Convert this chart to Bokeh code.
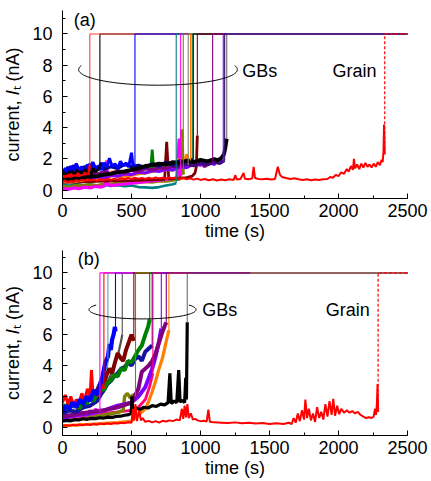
import numpy as np
from bokeh.plotting import figure
from bokeh.layouts import column
from bokeh.models import SingleIntervalTicker, Label
from bokeh.embed import file_html
from bokeh.resources import INLINE

I_SAT = 10.0      # compliance level (nA)
T_END = 2500      # end of record (s)
Y_TITLE = "current, \U0001D43C\u209C (nA)"   # current, I_t (nA) with italic I and subscript t

# ---------------- panel (a): GB traces, (time s, current nA); last point = breakdown
a_black2 = [(0, 0.95), (15, 1.15), (30, 0.9), (45, 1.2), (60, 1.0), (75, 1.25), (90, 0.95), (105, 1.3),
            (120, 1.05), (135, 1.2), (150, 0.95), (165, 1.35), (180, 1.1), (195, 1.25), (210, 1.0),
            (225, 1.4), (240, 1.15), (255, 1.3), (271, 1.5)]
a_red = [(0, 0.75), (12, 0.95), (25, 0.7), (38, 1.0), (50, 0.8), (62, 1.05), (75, 0.75), (88, 0.95),
         (100, 0.85), (112, 1.1), (125, 0.8), (138, 1.0), (150, 0.9), (162, 1.15), (175, 0.85),
         (188, 1.05), (198, 1.6)]
a_blue = [(0, 1.1), (20, 1.4), (40, 1.15), (60, 1.55), (80, 1.25), (100, 1.7), (120, 1.3), (140, 1.5),
          (160, 1.2), (180, 1.65), (200, 1.35), (220, 1.8), (240, 1.4), (260, 1.55), (280, 1.3),
          (300, 1.75), (320, 1.45), (340, 2.05), (360, 1.5), (380, 1.7), (400, 1.4), (420, 1.85),
          (440, 1.55), (460, 1.75), (480, 1.5), (500, 2.4), (510, 1.6), (525, 1.7)]
a_navy = [(0, 1.3), (20, 1.0), (40, 1.5), (60, 1.1), (80, 1.6), (100, 1.2), (120, 1.45), (140, 1.05),
          (160, 1.55), (180, 1.2), (200, 1.7), (220, 1.25), (240, 1.5), (260, 1.3), (280, 1.75),
          (300, 1.35), (350, 1.5), (400, 1.4), (450, 1.65), (500, 1.5), (550, 1.6), (600, 1.45),
          (650, 1.7), (700, 1.55), (750, 1.8), (800, 1.6), (850, 1.9), (900, 1.7), (948, 2.0)]
a_purple = [(0, 0.85), (40, 1.05), (80, 0.9), (120, 1.1), (160, 0.95), (200, 1.15), (250, 1.0),
            (300, 1.2), (350, 1.05), (400, 1.25), (450, 1.1), (500, 1.3), (550, 1.2), (600, 1.4),
            (650, 1.3), (700, 1.45), (750, 1.4), (800, 1.55), (850, 1.5), (900, 1.7), (950, 1.6),
            (1000, 1.85), (1030, 1.5), (1060, 1.9), (1088, 1.7)]
a_violet = [(0, 0.6), (50, 0.7), (100, 0.65), (150, 0.8), (200, 0.7), (250, 0.85), (300, 0.8),
            (350, 0.95), (400, 0.9), (450, 1.05), (500, 1.0), (550, 1.15), (600, 1.1), (650, 1.25),
            (700, 1.2), (750, 1.35), (800, 1.3), (850, 1.5), (900, 1.45), (950, 1.7), (1000, 1.6),
            (1050, 1.85), (1100, 1.65), (1130, 2.0), (1165, 1.8)]
a_indigo = [(800, 1.5), (850, 1.6), (900, 1.65), (950, 1.55), (1000, 1.75), (1050, 1.6), (1100, 1.8),
            (1140, 1.7), (1175, 1.9)]
a_black = [(0, 0.65), (30, 0.7), (60, 0.68), (90, 0.75), (120, 0.72), (150, 0.8), (200, 0.85),
           (250, 0.9), (300, 1.0), (350, 1.05), (400, 1.15), (450, 1.2), (500, 1.3), (550, 1.4),
           (600, 1.55), (650, 1.6), (700, 1.7), (750, 1.65), (800, 1.8), (850, 1.75), (900, 1.9),
           (950, 1.8), (1000, 1.95), (1050, 1.85), (1100, 2.0), (1125, 1.9), (1150, 2.05),
           (1170, 2.3), (1180, 2.7), (1190, 3.3)]
a_orange = [(0, 0.55), (50, 0.6), (100, 0.58), (150, 0.65), (200, 0.7), (250, 0.68), (300, 0.75),
            (340, 0.8), (360, 1.2), (400, 0.85), (450, 0.9), (500, 0.95), (550, 1.05), (600, 1.1),
            (650, 1.2), (700, 1.3), (750, 1.4), (800, 1.5), (840, 2.0), (860, 1.6), (880, 1.7),
            (900, 2.3), (915, 1.8), (928, 1.9)]
a_green = [(100, 0.9), (150, 1.0), (200, 0.95), (250, 1.05), (300, 1.1), (350, 1.0), (400, 1.15),
           (450, 1.2), (500, 1.25), (550, 1.3), (600, 1.35), (640, 1.4), (650, 2.6), (660, 1.45),
           (700, 1.5), (750, 1.55), (800, 1.6), (850, 1.7), (900, 1.8), (940, 2.0)]
a_teal = [(0, 0.35), (50, 0.3), (100, 0.4), (150, 0.32), (200, 0.38), (250, 0.3), (300, 0.35),
          (350, 0.28), (400, 0.32), (450, 0.25), (500, 0.3), (550, 0.2), (600, 0.18), (650, 0.15),
          (700, 0.2), (750, 0.3), (800, 0.38), (824, 0.45)]
a_magenta = [(0, 0.1), (40, 0.05), (80, 0.15), (120, 0.1), (160, 0.2), (200, 0.15), (240, 0.25),
             (280, 0.2), (310, 0.3), (320, 1.9), (330, 0.35), (360, 0.3), (400, 0.35), (450, 0.4),
             (500, 0.45), (550, 0.5), (600, 0.55), (650, 0.6), (700, 0.65), (750, 0.7), (800, 0.75),
             (830, 0.8), (845, 3.3), (856, 0.9)]
a_olive = [(0, 0.25), (50, 0.2), (100, 0.3), (150, 0.28), (200, 0.35), (250, 0.3), (300, 0.4),
           (350, 0.38), (400, 0.45), (450, 0.42), (500, 0.5), (550, 0.48), (600, 0.55), (650, 0.52),
           (700, 0.6), (750, 0.58), (800, 0.65), (850, 0.7), (865, 3.9), (875, 1.0)]
a_gray = [(700, 1.2), (750, 1.3), (800, 1.25), (850, 1.4), (900, 1.5), (911, 1.6)]
a_wine = [(0, 0.5), (100, 0.52), (200, 0.55), (300, 0.58), (400, 0.6), (500, 0.62), (600, 0.65),
          (700, 0.68), (740, 0.7), (755, 3.1), (770, 0.72), (800, 0.75), (850, 0.78), (900, 0.8),
          (940, 0.9), (960, 1.1), (970, 1.5), (977, 3.5)]
# grain trace (a)
a_grain = [(0, 0.55), (20, 0.62), (40, 0.5), (60, 0.6), (80, 0.55), (100, 0.65), (120, 0.58), (140, 0.66),
           (160, 0.6), (180, 0.7), (200, 0.62), (225, 0.68), (250, 0.6), (275, 0.7), (300, 0.64),
           (325, 0.72), (350, 0.66), (375, 0.74), (400, 0.68), (425, 0.76), (450, 0.7), (475, 0.78),
           (500, 0.72), (525, 0.8), (550, 0.74), (575, 0.78), (600, 0.72), (625, 0.8), (650, 0.74),
           (675, 0.82), (700, 0.76), (725, 0.8), (750, 0.74), (775, 0.82), (800, 0.76), (825, 0.8),
           (850, 0.72), (875, 0.78), (900, 0.7), (925, 0.76), (950, 0.68), (975, 0.74), (1000, 0.66),
           (1030, 0.72), (1060, 0.64), (1090, 0.7), (1120, 0.62), (1150, 0.68), (1180, 0.64),
           (1210, 0.7), (1240, 0.66), (1253, 0.96), (1262, 0.68), (1290, 0.72), (1312, 1.1),
           (1322, 0.74), (1350, 0.7), (1375, 0.76), (1385, 1.49), (1395, 0.78), (1420, 0.72),
           (1450, 0.7), (1480, 0.74), (1510, 0.68), (1540, 0.72), (1560, 1.5), (1575, 1.0),
           (1590, 0.85), (1620, 0.78), (1650, 0.72), (1680, 0.76), (1710, 0.7), (1740, 0.66),
           (1770, 0.7), (1800, 0.64), (1830, 0.68), (1860, 0.66), (1890, 0.7), (1920, 0.72),
           (1940, 0.85), (1960, 0.8), (1980, 0.98), (2000, 0.9), (2020, 1.15), (2040, 1.05),
           (2060, 1.35), (2075, 1.2), (2090, 1.55), (2105, 1.3), (2112, 2.0), (2120, 1.4),
           (2135, 1.65), (2150, 1.35), (2165, 1.7), (2180, 1.45), (2195, 1.75), (2210, 1.5),
           (2225, 1.65), (2240, 1.45), (2255, 1.7), (2270, 1.5), (2285, 1.8), (2300, 1.6),
           (2312, 1.95), (2320, 1.8), (2326, 2.5), (2330, 4.2), (2335, 2.3)]

# ---------------- panel (b)
b_magenta = [(0, 0.5), (20, 0.7), (40, 0.55), (60, 0.8), (80, 0.6), (100, 0.9), (120, 0.65), (140, 1.0),
             (160, 0.7), (180, 0.85), (200, 1.1), (220, 0.8), (240, 1.2), (260, 0.9), (271, 1.0)]
b_red = [(0, 1.6), (20, 2.1), (40, 1.5), (60, 2.0), (80, 1.4), (100, 1.8), (120, 1.6), (140, 2.2),
         (160, 1.7), (180, 2.5), (200, 2.0), (210, 3.7), (220, 2.2), (240, 2.4), (260, 2.0),
         (280, 2.8), (300, 2.5)]
b_teal = [(0, 0.9), (50, 1.0), (100, 1.1), (150, 1.2), (200, 1.4), (250, 1.7), (280, 2.0), (300, 2.6),
          (315, 3.4), (329, 4.4)]
b_blue = [(0, 1.0), (25, 1.4), (50, 1.2), (75, 1.6), (100, 1.3), (125, 1.8), (150, 1.5), (175, 2.0),
          (200, 1.7), (225, 2.4), (250, 2.1), (270, 2.7), (290, 3.3), (310, 4.2), (330, 4.6),
          (340, 5.4), (350, 5.0), (360, 5.7), (370, 6.0), (380, 6.5), (384, 6.2)]
b_dgray = [(250, 1.8), (300, 2.4), (330, 3.0), (360, 3.6), (390, 4.4), (410, 5.0), (425, 5.6), (433, 6.0)]
b_maroon = [(100, 1.2), (150, 1.6), (200, 1.9), (250, 2.4), (280, 3.0), (300, 2.8), (320, 3.4),
            (340, 3.8), (360, 3.5), (380, 4.2), (400, 4.8), (420, 4.5), (440, 4.3), (460, 5.0),
            (480, 5.5), (500, 6.0), (517, 5.6)]
b_olive = [(0, 0.5), (100, 0.6), (200, 0.7), (300, 0.8), (400, 0.95), (440, 1.1), (450, 2.0),
           (470, 2.2), (490, 1.9), (510, 2.1), (529, 2.0)]
b_green = [(0, 1.5), (25, 1.2), (50, 1.8), (75, 1.3), (100, 1.6), (125, 1.2), (150, 1.9), (175, 1.5),
           (200, 2.0), (225, 1.7), (250, 2.2), (275, 2.5), (300, 2.4), (325, 2.9), (350, 3.0),
           (375, 3.4), (400, 3.3), (425, 3.8), (450, 3.7), (475, 4.3), (500, 4.2), (525, 4.6),
           (550, 5.0), (575, 5.3), (600, 6.0), (620, 6.5), (632, 7.0)]
b_navy = [(0, 0.9), (50, 1.1), (100, 1.0), (150, 1.3), (200, 1.4), (250, 1.7), (275, 2.1), (300, 2.4),
          (325, 2.8), (350, 3.0), (375, 3.3), (400, 3.5), (425, 3.8), (450, 3.9), (475, 4.2),
          (500, 4.0), (525, 4.4), (550, 4.6), (575, 4.3), (600, 4.9), (625, 5.1), (650, 5.3)]
b_pink = [(0, 0.7), (100, 0.8), (200, 0.85), (300, 0.9), (400, 1.0), (500, 1.1), (550, 1.3),
          (600, 1.8), (630, 2.6), (655, 3.5)]
b_violet = [(0, 0.6), (100, 0.8), (200, 0.9), (300, 1.1), (400, 1.4), (500, 1.6), (550, 2.0),
            (600, 2.6), (625, 3.2), (650, 3.8), (675, 4.6), (700, 5.6), (716, 6.4)]
b_purple = [(0, 0.7), (100, 0.85), (200, 1.0), (300, 1.1), (400, 1.3), (500, 1.6), (550, 2.5),
            (575, 3.6), (600, 3.8), (625, 4.0), (650, 4.3), (675, 4.8), (700, 5.5), (725, 6.2),
            (752, 6.8)]
b_orange = [(0, 0.1), (100, 0.15), (200, 0.2), (300, 0.25), (400, 0.3), (500, 0.4), (550, 0.8),
            (600, 1.2), (625, 1.7), (650, 2.3), (675, 3.0), (700, 3.8), (725, 4.5), (750, 5.5),
            (771, 6.3)]
b_black = [(0, 0.4), (30, 0.45), (60, 0.42), (90, 0.5), (120, 0.48), (150, 0.55), (180, 0.52),
           (210, 0.58), (240, 0.56), (270, 0.62), (300, 0.6), (330, 0.66), (360, 0.64), (390, 0.7),
           (420, 0.72), (450, 0.78), (480, 0.82), (498, 0.9), (503, 2.0), (508, 1.15), (530, 1.25),
           (560, 1.15), (590, 1.3), (620, 1.25), (650, 1.4), (680, 1.35), (710, 1.5), (740, 1.45),
           (765, 1.6), (778, 3.5), (788, 1.55), (810, 1.7), (828, 1.6), (842, 3.7), (852, 1.65),
           (870, 1.75), (885, 1.6), (893, 3.2), (898, 1.8), (904, 6.8)]
b_grain = [(0, 0.1), (25, 0.14), (50, 0.1), (75, 0.16), (100, 0.12), (125, 0.18), (150, 0.14), (175, 0.2),
           (200, 0.15), (225, 0.22), (250, 0.18), (275, 0.24), (300, 0.2), (325, 0.26), (350, 0.22),
           (375, 0.28), (400, 0.25), (425, 0.3), (450, 0.27), (475, 0.33), (500, 0.3), (510, 1.2),
           (518, 0.45), (528, 1.5), (540, 0.4), (555, 1.1), (568, 0.45), (580, 0.6), (600, 0.35),
           (625, 0.42), (650, 0.32), (675, 0.4), (700, 0.3), (725, 0.42), (750, 0.38), (775, 0.45),
           (800, 0.4), (825, 0.5), (850, 0.45), (865, 1.2), (875, 0.55), (885, 1.4), (895, 0.65),
           (905, 1.5), (915, 0.6), (930, 0.9), (945, 0.5), (960, 0.55), (980, 0.45), (1000, 0.4),
           (1025, 0.42), (1045, 0.38), (1057, 1.15), (1068, 0.36), (1100, 0.32), (1150, 0.3),
           (1200, 0.28), (1250, 0.32), (1300, 0.26), (1350, 0.3), (1400, 0.24), (1450, 0.28),
           (1500, 0.22), (1550, 0.26), (1600, 0.22), (1640, 0.3), (1660, 0.2), (1675, 0.6),
           (1690, 0.3), (1705, 0.9), (1720, 0.4), (1735, 1.1), (1750, 0.5), (1760, 1.8), (1772, 0.6),
           (1785, 1.2), (1800, 0.45), (1815, 0.9), (1830, 0.35), (1845, 1.3), (1860, 0.6),
           (1875, 1.0), (1890, 0.5), (1905, 1.5), (1920, 0.7), (1935, 1.7), (1950, 0.8),
           (1962, 1.85), (1975, 0.75), (1990, 1.4), (2005, 0.85), (2020, 1.2), (2040, 0.95),
           (2060, 1.1), (2080, 0.95), (2100, 1.05), (2120, 0.9), (2140, 1.0), (2160, 0.8),
           (2180, 0.7), (2200, 0.6), (2220, 0.65), (2240, 0.6), (2255, 0.7), (2265, 1.2),
           (2272, 0.8), (2278, 1.5), (2283, 2.8), (2287, 1.0)]

# recording end for traces whose saturated part stops early
b_magenta_end = 520
b_purple_end = 1360

# ---------------- styling / layout
FONT = "Liberation Sans"
C = dict(black="#000000", red="#FF0000", blue="#0000FF", navy="#000080", purple="#800080",
         violet="#8000FF", indigo="#3A0A78", orange="#FF8000", green="#008000", teal="#008080",
         magenta="#FF00FF", olive="#808000", gray="#808080", wine="#800000", lteal="#4FA8A8",
         dgray="#505050", pink="#FF0080", jgray="#6E6E6E", lred="#FF3B3B")


def style(p):
    p.outline_line_color = None
    p.grid.visible = False
    p.background_fill_color = "white"
    p.border_fill_color = "white"
    p.xaxis.ticker = SingleIntervalTicker(interval=500, num_minor_ticks=2)
    p.yaxis.ticker = SingleIntervalTicker(interval=2, num_minor_ticks=2)
    for ax in (p.xaxis[0], p.yaxis[0]):
        ax.axis_line_color = "black"
        ax.axis_line_width = 1
        ax.major_tick_in = 5
        ax.major_tick_out = 0
        ax.minor_tick_in = 3
        ax.minor_tick_out = 0
        ax.major_tick_line_color = "black"
        ax.minor_tick_line_color = "black"
        ax.major_label_text_font = FONT
        ax.major_label_text_font_size = "18px"
        ax.major_label_text_color = "black"
        ax.axis_label_text_font = FONT
        ax.axis_label_text_font_size = "18px"
        ax.axis_label_text_font_style = "normal"
        ax.axis_label_text_color = "black"
    p.xaxis.major_label_standoff = 5
    p.yaxis.major_label_standoff = 10
    p.xaxis.axis_label = "time (s)"
    p.xaxis.axis_label_standoff = 1
    p.yaxis.axis_label = Y_TITLE
    p.yaxis.axis_label_standoff = 6


def xy(pts):
    return [q[0] for q in pts], [q[1] for q in pts]


def draw(p, noise_order, top_order, grain, ring, texts):
    for pts, col, jcol, tend, lw in noise_order:
        t, i = xy(pts)
        p.line(t, i, line_color=col, line_width=lw)
    t, i = xy(grain)
    p.line(t, i, line_color=C["red"], line_width=2.0)
    for pts, col, jcol, tend, lw in top_order:
        tb, ib = pts[-1]
        p.line([tb, tb, tend], [ib, I_SAT, I_SAT], line_color=jcol, line_width=1.1)
    tb, ib = grain[-1]
    p.line([tb, tb, T_END], [ib, I_SAT, I_SAT], line_color=C["red"], line_width=1.2, line_dash="3 2")
    cx, cy, a, b, th0, th1 = ring
    th = np.radians(np.linspace(th0, th1, 90))
    p.line(cx + a * np.cos(th), cy + b * np.sin(th), line_color="black", line_width=1)
    for x, y, s in texts:
        p.add_layout(Label(x=x, y=y, text=s, text_font=FONT, text_font_size="18px",
                           text_baseline="middle", text_align="left", text_color="black"))


# ---------------- panel (a)
pa = figure(width=431, height=245, x_range=(0, 2500), y_range=(-0.53, 11.5),
            output_backend="svg", toolbar_location=None,
            min_border_left=62, min_border_right=24, min_border_top=10, min_border_bottom=47)
style(pa)
A = dict(
    black2=(a_black2, C["black"], C["black"], T_END, 2.6),
    red=(a_red, C["red"], C["lred"], T_END, 2.6),
    blue=(a_blue, C["blue"], C["blue"], T_END, 3.0),
    navy=(a_navy, C["navy"], C["navy"], T_END, 3.2),
    purple=(a_purple, C["purple"], C["purple"], T_END, 3.4),
    violet=(a_violet, C["violet"], C["violet"], T_END, 3.2),
    indigo=(a_indigo, C["indigo"], C["indigo"], T_END, 2.8),
    black=(a_black, C["black"], C["jgray"], T_END, 3.8),
    orange=(a_orange, C["orange"], C["orange"], T_END, 3.0),
    green=(a_green, C["green"], C["green"], T_END, 2.8),
    teal=(a_teal, C["teal"], C["teal"], T_END, 2.6),
    magenta=(a_magenta, C["magenta"], C["magenta"], T_END, 3.2),
    olive=(a_olive, C["olive"], C["olive"], T_END, 3.2),
    gray=(a_gray, C["gray"], C["gray"], T_END, 2.0),
    wine=(a_wine, C["wine"], C["wine"], T_END, 2.8))
a_noise = [A[k] for k in ["teal", "olive", "magenta", "wine", "gray", "green", "orange", "violet",
                          "purple", "navy", "blue", "indigo", "black2", "red", "black"]]
a_top = [A[k] for k in ["black2", "red", "blue", "teal", "magenta", "olive", "gray", "orange", "green",
                        "navy", "wine", "purple", "violet", "black", "indigo"]]
draw(pa, a_noise, a_top, a_grain, (692, 7.72, 575, 1.0, 165, 375),
     [(82, 10.9, "(a)"), (1303, 7.6, "GBs"), (1956, 7.6, "Grain")])

# ---------------- panel (b)
pb = figure(width=431, height=236, x_range=(0, 2500), y_range=(-0.53, 11.45),
            output_backend="svg", toolbar_location=None,
            min_border_left=62, min_border_right=24, min_border_top=5, min_border_bottom=46)
style(pb)
B = dict(
    magenta=(b_magenta, C["magenta"], C["magenta"], b_magenta_end, 3.0),
    red=(b_red, C["red"], C["red"], T_END, 3.0),
    teal=(b_teal, C["lteal"], C["lteal"], T_END, 2.2),
    blue=(b_blue, C["blue"], C["blue"], T_END, 4.2),
    dgray=(b_dgray, C["dgray"], C["dgray"], T_END, 2.2),
    maroon=(b_maroon, C["wine"], C["wine"], T_END, 4.0),
    olive=(b_olive, C["olive"], C["olive"], T_END, 3.4),
    green=(b_green, C["green"], C["green"], T_END, 4.0),
    navy=(b_navy, "#1414A0", "#1414A0", T_END, 4.0),
    pink=(b_pink, C["pink"], C["pink"], T_END, 2.8),
    violet=(b_violet, C["violet"], C["violet"], T_END, 4.0),
    purple=(b_purple, C["purple"], C["purple"], b_purple_end, 4.0),
    orange=(b_orange, C["orange"], C["orange"], T_END, 3.2),
    black=(b_black, C["black"], C["jgray"], T_END, 3.2))
b_noise = [B[k] for k in ["teal", "dgray", "pink", "olive", "magenta", "orange", "violet", "purple",
                          "navy", "maroon", "green", "red", "blue", "black"]]
b_top = [B[k] for k in ["red", "teal", "blue", "dgray", "magenta", "maroon", "olive", "green", "navy",
                        "pink", "violet", "orange", "black", "purple"]]
draw(pb, b_noise, b_top, b_grain, (580, 7.62, 388, 0.6, 150, 390),
     [(111, 10.9, "(b)"), (1013, 7.6, "GBs"), (1908, 7.6, "Grain")])

layout = column(pa, pb, spacing=0)
open("out.html", "w").write(file_html(layout, INLINE))
